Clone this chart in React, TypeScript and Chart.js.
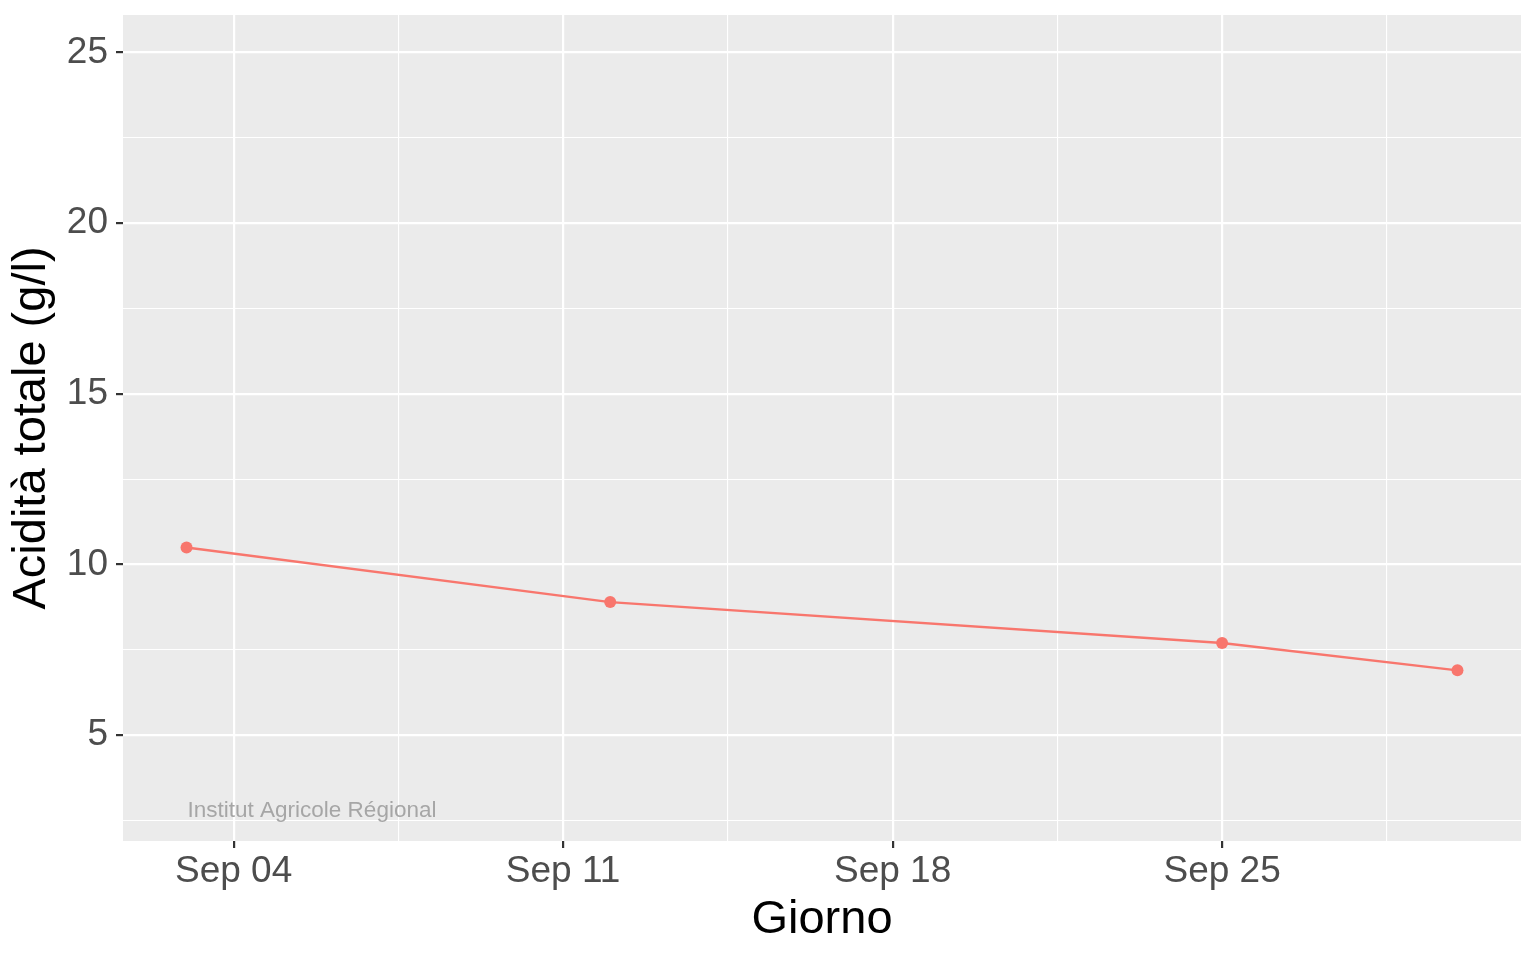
import React, { useEffect, useRef } from "react";
import { Chart, registerables } from "chart.js";

Chart.register(...registerables);

// ---- data ----
const days: number[] = [3, 12, 25, 30]; // day of September
const acidity: number[] = [10.5, 8.9, 7.7, 6.9];

const xMajorTicks: number[] = [4, 11, 18, 25];
const xTickLabels: string[] = ["Sep 04", "Sep 11", "Sep 18", "Sep 25"];
const xMinorTicks: number[] = [7.5, 14.5, 21.5, 28.5];

const yMajorTicks: number[] = [5, 10, 15, 20, 25];
const yMinorTicks: number[] = [2.5, 7.5, 12.5, 17.5, 22.5];

const xTitle = "Giorno";
const yTitle = "Acidità totale (g/l)";
const annotationText = "Institut Agricole Régional";
const annotationX = 3;
const annotationY = 2.85;

const X_MIN = 1.65;
const X_MAX = 31.35;
const Y_MIN = 1.9;
const Y_MAX = 26.1;

const FONT = "'Liberation Sans', Arial, Helvetica, sans-serif";
const LINE_COLOR = "#F8766D";

const isMajor = (v: number, majors: number[]) => majors.some((m) => Math.abs(m - v) < 1e-9);

const panelBg = {
  id: "panelBg",
  beforeDraw(chart: any) {
    const { ctx, chartArea } = chart;
    ctx.save();
    ctx.fillStyle = "#EBEBEB";
    ctx.fillRect(chartArea.left, chartArea.top, chartArea.right - chartArea.left, chartArea.bottom - chartArea.top);
    ctx.restore();
  },
};

const annotation = {
  id: "annotation",
  afterDatasetsDraw(chart: any) {
    const { ctx, scales } = chart;
    const x = scales.x.getPixelForValue(annotationX);
    const y = scales.y.getPixelForValue(annotationY);
    ctx.save();
    ctx.font = `22.5px ${FONT}`;
    ctx.fillStyle = "#A6A6A6";
    ctx.textAlign = "left";
    ctx.textBaseline = "alphabetic";
    ctx.fillText(annotationText, x + 1, y + 8);
    ctx.restore();
  },
};

export default function App() {
  const ref = useRef<HTMLCanvasElement | null>(null);

  useEffect(() => {
    if (!ref.current) return;
    const chart = new Chart(ref.current, {
      type: "line",
      data: {
        datasets: [
          {
            data: days.map((d, i) => ({ x: d, y: acidity[i] })),
            borderColor: LINE_COLOR,
            backgroundColor: LINE_COLOR,
            borderWidth: 2.4,
            pointRadius: 6,
            pointBorderWidth: 0,
            pointBackgroundColor: LINE_COLOR,
            tension: 0,
          },
        ],
      },
      options: {
        animation: false,
        responsive: false,
        devicePixelRatio: 1,
        layout: { padding: { top: 15, right: 15, left: 0, bottom: 0 } },
        plugins: {
          legend: { display: false },
          tooltip: { enabled: false },
        },
        scales: {
          x: {
            type: "linear",
            min: X_MIN,
            max: X_MAX,
            afterBuildTicks: (scale: any) => {
              scale.ticks = [...xMajorTicks, ...xMinorTicks]
                .sort((a, b) => a - b)
                .map((v) => ({ value: v }));
            },
            afterFit: (scale: any) => {
              scale.height = 119;
              scale.paddingLeft = 0;
              scale.paddingRight = 0;
            },
            border: { display: false },
            grid: {
              color: "#FFFFFF",
              lineWidth: (ctx: any) => (isMajor(ctx.tick.value, xMajorTicks) ? 2.2 : 1.1),
              tickLength: 7,
              tickColor: (ctx: any) => (isMajor(ctx.tick.value, xMajorTicks) ? "#333333" : "rgba(0,0,0,0)"),
              tickWidth: 2.2,
            },
            ticks: {
              autoSkip: false,
              maxRotation: 0,
              padding: 2,
              color: "#4D4D4D",
              font: { family: FONT, size: 37, lineHeight: 1.2 },
              callback: (v: any) => {
                const idx = xMajorTicks.findIndex((m) => Math.abs(m - v) < 1e-9);
                return idx >= 0 ? xTickLabels[idx] : "";
              },
            },
            title: {
              display: true,
              text: xTitle,
              color: "#000000",
              font: { family: FONT, size: 47, lineHeight: 1.2 },
              padding: { top: 0, bottom: 12 },
            },
          },
          y: {
            type: "linear",
            min: Y_MIN,
            max: Y_MAX,
            afterBuildTicks: (scale: any) => {
              scale.ticks = [...yMajorTicks, ...yMinorTicks]
                .sort((a, b) => a - b)
                .map((v) => ({ value: v }));
            },
            afterFit: (scale: any) => {
              scale.width = 123;
              scale.paddingTop = 0;
              scale.paddingBottom = 0;
            },
            border: { display: false },
            grid: {
              color: "#FFFFFF",
              lineWidth: (ctx: any) => (isMajor(ctx.tick.value, yMajorTicks) ? 2.2 : 1.1),
              tickLength: 7,
              tickColor: (ctx: any) => (isMajor(ctx.tick.value, yMajorTicks) ? "#333333" : "rgba(0,0,0,0)"),
              tickWidth: 2.2,
            },
            ticks: {
              autoSkip: false,
              padding: 8,
              color: "#4D4D4D",
              font: { family: FONT, size: 37, lineHeight: 1.2 },
              callback: (v: any) => (isMajor(v, yMajorTicks) ? String(v) : ""),
            },
            title: {
              display: true,
              text: yTitle,
              color: "#000000",
              font: { family: FONT, size: 47, lineHeight: 1.2 },
              padding: { top: 4, bottom: 0 },
            },
          },
        },
      },
      plugins: [panelBg, annotation],
    } as any);
    return () => chart.destroy();
  }, []);

  return (
    <canvas
      ref={ref}
      width={1536}
      height={960}
      style={{ position: "absolute", left: 0, top: 0, width: 1536, height: 960, display: "block" }}
    />
  );
}
